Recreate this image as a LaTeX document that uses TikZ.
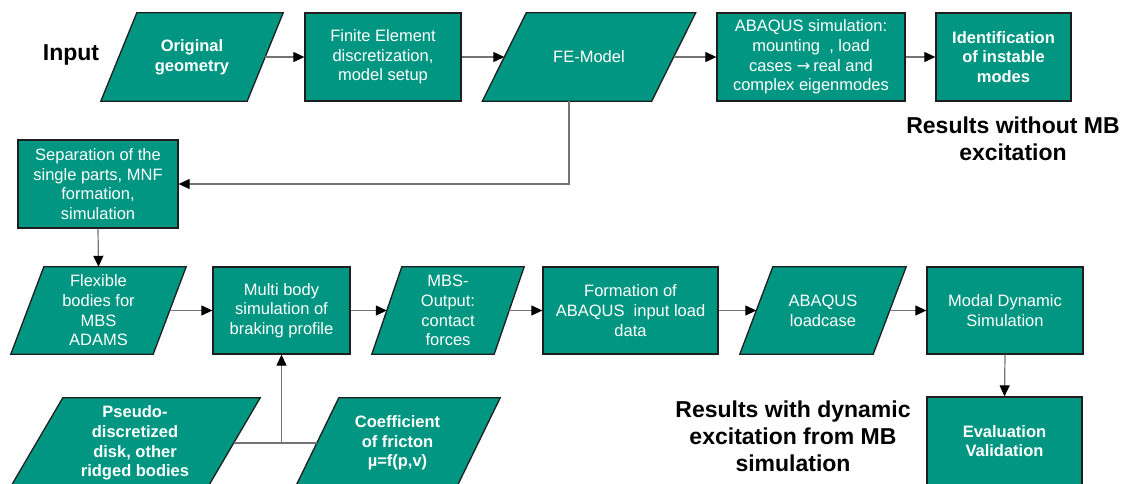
\documentclass[tikz,border=0pt]{standalone}
\usepackage{fontspec}
\setmainfont{Liberation Sans}
\newfontfamily\arrowfont{DejaVu Sans}
\usetikzlibrary{arrows.meta,backgrounds}
\definecolor{boxteal}{RGB}{0,150,130}
\definecolor{edgecol}{RGB}{30,30,30}
\newcommand\parallelo[3][]{%
  \path[pshape,#1] ([xshift=#3]#2.north west) -- ([xshift=#3]#2.north east)
    -- ([xshift=-#3]#2.south east) -- ([xshift=-#3]#2.south west) -- cycle;}
\begin{document}
\begin{tikzpicture}[x=1pt,y=-1pt,
  txt/.style={text=white, align=center, inner sep=0pt, minimum height=88pt,
    font=\fontsize{16.5}{19.7}\selectfont},
  btxt/.style={txt, font=\fontsize{16.5}{19.7}\selectfont\bfseries},
  box/.style={draw=edgecol, line width=1.3pt, fill=boxteal},
  pshape/.style={draw=edgecol, line width=1.3pt, fill=boxteal, line join=miter},
  conn/.style={draw=black!55, line width=1.2pt, -{Triangle[length=11pt,width=10pt,color=black]}},
  plain/.style={draw=black!55, line width=1.2pt},
  lbl/.style={font=\fontsize{23}{27}\selectfont\bfseries, align=center, text=black}
]
\useasboundingbox (0,0) rectangle (1128,483);
\clip (0,0) rectangle (1128,483);

% Row 1
\node[btxt, minimum width=146pt] (orig) at (192,57) {Original\\geometry};
\node[txt, box, minimum width=156pt] (fed) at (383,57) {Finite Element\\discretization,\\model setup};
\node[txt, minimum width=169pt] (fem) at (589,57) {FE-Model};
\node[txt, box, minimum width=188pt] (abq) at (811,57) {ABAQUS simulation:\\mounting\ \ , load\\cases {\arrowfont →}\,real and\\complex eigenmodes};
\node[btxt, box, minimum width=135pt] (ident) at (1003.5,57) {Identification\\of instable\\modes};

% Separation
\node[txt, box, minimum width=160pt] (sep) at (98,184) {Separation of the\\single parts, MNF\\formation,\\simulation};

% Row 3
\node[txt, minimum width=142pt, minimum height=87pt] (flex) at (98.5,310.5) {Flexible\\bodies for\\MBS\\ADAMS};
\node[txt, box, minimum width=137pt, minimum height=87pt] (mbs) at (281.5,310.5) {Multi body\\simulation of\\braking profile};
\node[txt, minimum width=122pt, minimum height=87pt] (mbo) at (448,310.5) {MBS-\\Output:\\contact\\forces};
\node[txt, box, minimum width=175pt, minimum height=87pt] (form) at (630.5,310.5) {Formation of\\ABAQUS\ \ input load\\data};
\node[txt, minimum width=133pt, minimum height=87pt] (load) at (823,310.5) {ABAQUS\\loadcase};
\node[txt, box, minimum width=156pt, minimum height=87pt] (modal) at (1005,310.5) {Modal Dynamic\\Simulation};

% Row 4
\node[btxt, box, minimum width=155pt] (eval) at (1004.5,441) {Evaluation\\Validation};
\node[btxt, minimum width=197pt, minimum height=90pt] (pseudo) at (135,443) {Pseudo-\\discretized\\disk, other\\ridged bodies};
\node[btxt, minimum width=161pt, minimum height=90pt] (coef) at (397.5,443) {Coefficient\\of fricton\\\textmu=f(p,v)};

% Labels
\node[lbl] (inp) at (71,55) {Input};
\node[lbl] (res1) at (1013,139) {Results without MB\\excitation};
\node[lbl] (res2) at (793,436) {Results with dynamic\\excitation from MB\\simulation};

% Parallelograms on background
\begin{scope}[on background layer]
  \clip (0,0) rectangle (1128,483);
  \parallelo{orig}{18pt}
  \parallelo{fem}{22pt}
  \parallelo{flex}{16.5pt}
  \parallelo{mbo}{15pt}
  \parallelo{load}{16.5pt}
  \parallelo{pseudo}{26.5pt}
  \parallelo{coef}{22pt}
\end{scope}

% Connectors
\draw[conn] (orig.east) -- (fed.west);
\draw[conn] (fed.east) -- (fem.west);
\draw[conn] (fem.east) -- (abq.west);
\draw[conn] (abq.east) -- (ident.west);
\draw[conn] ([xshift=-20pt]fem.south) |- (sep.east);
\draw[conn] (sep.south) -- (flex.north);
\draw[conn] (flex.east) -- (mbs.west);
\draw[conn] (mbs.east) -- (mbo.west);
\draw[conn] (mbo.east) -- (form.west);
\draw[conn] (form.east) -- (load.west);
\draw[conn] (load.east) -- (modal.west);
\draw[conn] (modal.south) -- (eval.north);
\coordinate (j) at (mbs.south |- pseudo.east);
\draw[plain] (pseudo.east) -- (coef.west);
\draw[conn] (j) -- (mbs.south);
\end{tikzpicture}
\end{document}
